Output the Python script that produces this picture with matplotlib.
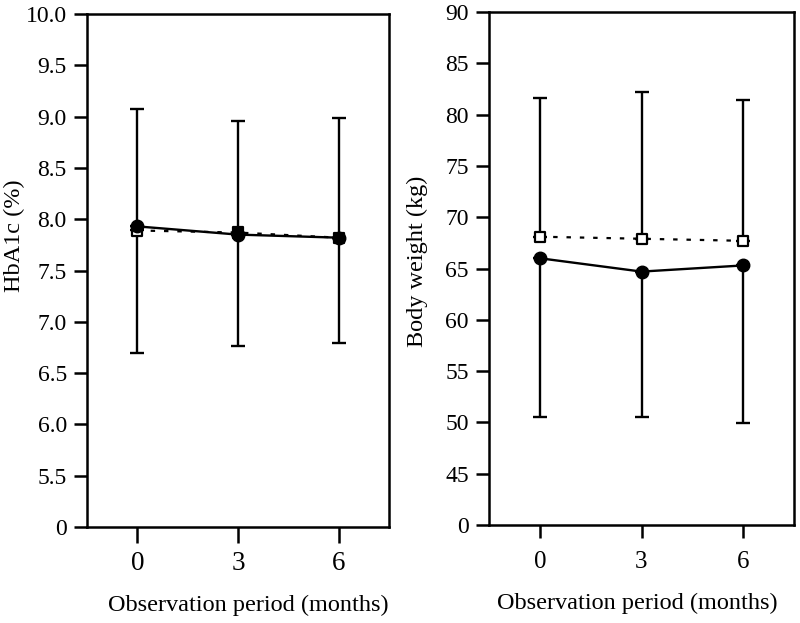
import matplotlib

matplotlib.use("Agg")

import matplotlib.pyplot as plt
import numpy as np

# ============================================================
# DATA
# ============================================================

months = [0, 3, 6]

# HbA1c (%)
hba1c_circle_mean = [7.93, 7.85, 7.82]
hba1c_circle_sd = [1.23, 1.09, 1.03]
hba1c_square_mean = [7.89, 7.87, 7.82]
hba1c_square_sd = [1.18, 1.09, 1.17]

hba1c_ticks = [5.0, 5.5, 6.0, 6.5, 7.0, 7.5, 8.0, 8.5, 9.0, 9.5, 10.0]
hba1c_tick_labels = ["0", "5.5", "6.0", "6.5", "7.0", "7.5",
                     "8.0", "8.5", "9.0", "9.5", "10.0"]

# Body weight (kg)
weight_circle_mean = [66.0, 64.7, 65.3]
weight_circle_sd = [15.5, 14.2, 15.4]
weight_square_mean = [68.1, 67.9, 67.7]
weight_square_sd = [13.5, 14.3, 13.7]

weight_ticks = [40, 45, 50, 55, 60, 65, 70, 75, 80, 85, 90]
weight_tick_labels = ["0", "45", "50", "55", "60", "65",
                      "70", "75", "80", "85", "90"]

x_label = "Observation period (months)"


def draw_panel(axis, circle_mean, circle_sd, square_mean, square_sd,
               square_faces):
    """
    Draw one panel: open squares (dotted) with upper SD,
    filled circles (solid) with lower SD.
    """
    zeros = np.zeros(len(months))

    # square series: upper error only
    axis.errorbar(
        months,
        square_mean,
        yerr=[zeros, square_sd],
        fmt="none",
        ecolor="black",
        elinewidth=1.7,
        capsize=4.7,
        capthick=1.7,
        zorder=2,
    )
    axis.plot(
        months,
        square_mean,
        color="black",
        linewidth=1.6,
        linestyle=(0, (2, 4)),
        zorder=3,
    )
    axis.scatter(
        months,
        square_mean,
        marker="s",
        s=55,
        facecolors=square_faces,
        edgecolors="black",
        linewidths=1.6,
        zorder=4,
    )

    # circle series: lower error only
    axis.errorbar(
        months,
        circle_mean,
        yerr=[circle_sd, zeros],
        fmt="none",
        ecolor="black",
        elinewidth=1.7,
        capsize=4.7,
        capthick=1.7,
        zorder=2,
    )
    axis.plot(
        months,
        circle_mean,
        color="black",
        linewidth=1.7,
        marker="o",
        markersize=9,
        markerfacecolor="black",
        markeredgecolor="black",
        zorder=5,
    )

    axis.set_xlim(-1.5, 7.5)
    axis.set_xticks(months)
    axis.set_xticklabels([str(m) for m in months])

    for spine in axis.spines.values():
        spine.set_linewidth(1.8)

    axis.tick_params(axis="y", direction="out", length=9.5, width=1.8,
                     pad=5, labelsize=17)


def main():
    plt.rcParams["font.family"] = ["Liberation Serif", "DejaVu Serif"]

    figure = plt.figure(figsize=(8, 6.23), dpi=100)

    # ============================================================
    # LEFT PANEL: HbA1c
    # ============================================================

    left_axis = figure.add_axes([0.10875, 0.1541, 0.3775, 0.8234])
    draw_panel(
        left_axis,
        hba1c_circle_mean,
        hba1c_circle_sd,
        hba1c_square_mean,
        hba1c_square_sd,
        ["white", "black", "black"],
    )
    left_axis.set_ylim(hba1c_ticks[0], hba1c_ticks[-1])
    left_axis.set_yticks(hba1c_ticks)
    left_axis.set_yticklabels(hba1c_tick_labels)
    left_axis.tick_params(axis="x", direction="out", length=11.5, width=1.8,
                          pad=6, labelsize=19.5)
    left_axis.set_ylabel("HbA1c (%)", fontsize=17.5, va="center")
    left_axis.yaxis.set_label_coords(-0.24, 0.567)
    left_axis.set_xlabel(x_label, fontsize=17.5, va="center")
    left_axis.xaxis.set_label_coords(0.533, -0.152)

    # ============================================================
    # RIGHT PANEL: BODY WEIGHT
    # ============================================================

    right_axis = figure.add_axes([0.61125, 0.1573, 0.38125, 0.8234])
    draw_panel(
        right_axis,
        weight_circle_mean,
        weight_circle_sd,
        weight_square_mean,
        weight_square_sd,
        "white",
    )
    right_axis.set_ylim(weight_ticks[0], weight_ticks[-1])
    right_axis.set_yticks(weight_ticks)
    right_axis.set_yticklabels(weight_tick_labels)
    right_axis.tick_params(axis="x", direction="out", length=9, width=1.8,
                           pad=10, labelsize=18)
    right_axis.set_ylabel("Body weight (kg)", fontsize=17.5, va="center")
    right_axis.yaxis.set_label_coords(-0.235, 0.515)
    right_axis.set_xlabel(x_label, fontsize=17.5, va="center")
    right_axis.xaxis.set_label_coords(0.485, -0.152)

    figure.savefig("out.png", dpi=100)


if __name__ == "__main__":
    main()
